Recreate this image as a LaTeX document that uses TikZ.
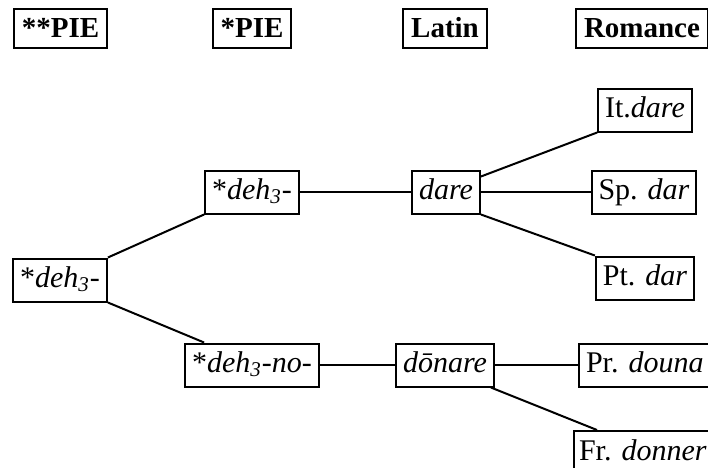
\documentclass[tikz,border=0pt]{standalone}
\usepackage{fontspec}
\setmainfont{Liberation Serif}
\usepackage{tikz}
\usetikzlibrary{positioning}

\begin{document}
\begin{tikzpicture}[-,x=0.5pt,y=-0.5pt,line width=1pt,
                    head node/.style={rectangle,fill=white,draw,font=\fontsize{14.5}{17}\selectfont\bfseries,inner xsep=4pt,text height=10.5pt,text depth=1.5pt,minimum height=19.5pt},
                    word node/.style={rectangle,fill=white,draw,font=\fontsize{15}{18}\selectfont,inner xsep=3.5pt,text height=11pt,text depth=3.5pt,minimum height=21.5pt}]
\useasboundingbox (0,0) rectangle (708,467);

% column heads
\node[head node] (PPIE) at (60.5,28.5) {**PIE};
\node[head node] (PIE) at (252,28.5) {*PIE};
\node[head node] (Latin) at (445,28.5) {Latin};
\node[head node] (Romance) at (642,28.5) {Romance};

% forms
\node[word node] (Root) at (60,280) {*\textit{deh\textsubscript{3}-}};
\node[word node] (Deh) at (252,192) {*\textit{deh\textsubscript{3}-}};
\node[word node] (DehNo) at (252,365) {*\textit{deh\textsubscript{3}-no-}};
\node[word node] (Dare) at (446,192) {\textit{dare}};
\node[word node] (Donare) at (445,365) {\textit{dōnare}};
\node[word node] (It) at (645,110) {It.\textit{dare}};
\node[word node] (Sp) at (644,192) {Sp. \textit{dar}};
\node[word node] (Pt) at (645,278) {Pt. \textit{dar}};
\node[word node,anchor=west] (Pr) at (578,365) {Pr. \textit{douna}};
\node[word node,anchor=north west,inner xsep=2.5pt] (Fr) at (573,430) {Fr. \textit{donner}};

\draw (Root.north east) -- (Deh.south west);
\draw (Root.south east) -- ([xshift=10pt]DehNo.north west);
\draw (Deh.east) -- (Dare.west);
\draw (DehNo.east) -- (Donare.west);
\draw ([yshift=-3.5pt]Dare.north east) -- (It.south west);
\draw (Dare.east) -- (Sp.west);
\draw (Dare.south east) -- (Pt.north west);
\draw (Donare.east) -- (Pr.west);
\draw ([xshift=-2pt]Donare.south east) -- ([xshift=12pt]Fr.north west);

\end{tikzpicture}
\end{document}
